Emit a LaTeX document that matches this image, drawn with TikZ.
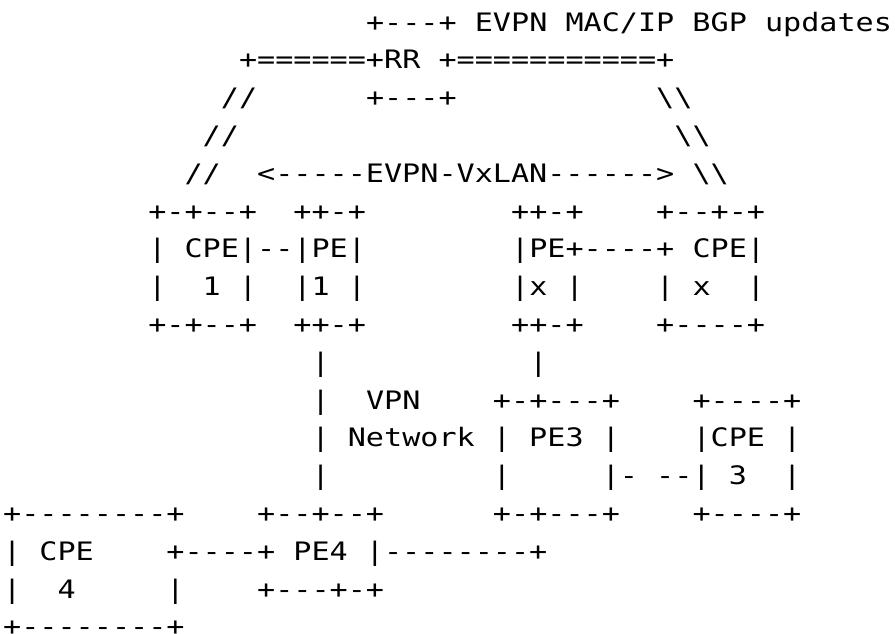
\documentclass[tikz,border=0pt]{standalone}
\usepackage{fontspec}
\usepackage{tikz}
\newfontfamily\rfcmono[FakeStretch=1.186]{DejaVu Sans Mono}
\newlength\cellw
\setlength\cellw{18.14pt}
\makeatletter
% one fixed-width cell per character
\newcommand\cells[1]{\@tfor\cellch:=#1\do{\makebox[\cellw][c]{\cellch}}}
\makeatother
\newcommand\bs{\textbackslash}

\tikzset{ascii/.style={font=\rfcmono\fontsize{25.4pt}{30pt}\selectfont, anchor=base west, inner sep=0pt}}

\begin{document}
\begin{tikzpicture}[x=18.14pt, y=-37.8pt]
            \useasboundingbox (-3pt,31pt) rectangle (892pt,-602pt);
            % Route reflector
            \node[ascii] (rrtop) at (20,0) {\cells{+---+}};
            \node[ascii] (updates) at (26,0) {\cells{EVPN~MAC/IP~BGP~updates}};
            \node[ascii] (rr) at (13,1) {\cells{+======+RR~+===========+}};
            \node[ascii] (rrbot) at (20,2) {\cells{+---+}};
            
            % Sessions down to the PEs
            \node[ascii] (lefta) at (12,2) {\cells{//}};
            \node[ascii] (leftb) at (11,3) {\cells{//}};
            \node[ascii] (leftc) at (10,4) {\cells{//}};
            \node[ascii] (righta) at (36,2) {\cells{\bs\bs}};
            \node[ascii] (rightb) at (37,3) {\cells{\bs\bs}};
            \node[ascii] (rightc) at (38,4) {\cells{\bs\bs}};
            \node[ascii] (vxlan) at (14,4) {\cells{<-----EVPN-VxLAN------>}};
            
            % CPE1 / PE1
            \node[ascii] (cpeonetop) at (8,5) {\cells{+-+--+}};
            \node[ascii] (peonetop) at (16,5) {\cells{++-+}};
            \node[ascii] (cpeone) at (8,6) {\cells{|~CPE|--|PE|}};
            \node[ascii] (cpeonenum) at (8,7) {\cells{|~~1~|~~|1~|}};
            \node[ascii] (cpeonebot) at (8,8) {\cells{+-+--+}};
            \node[ascii] (peonebot) at (16,8) {\cells{++-+}};
            
            % PEx / CPEx
            \node[ascii] (pextop) at (28,5) {\cells{++-+}};
            \node[ascii] (cpextop) at (36,5) {\cells{+--+-+}};
            \node[ascii] (pex) at (28,6) {\cells{|PE+----+~CPE|}};
            \node[ascii] (pexnum) at (28,7) {\cells{|x~|~~~~|~x~~|}};
            \node[ascii] (pexbot) at (28,8) {\cells{++-+}};
            \node[ascii] (cpexbot) at (36,8) {\cells{+----+}};
            
            % VPN network
            \node[ascii] (vpnup) at (17,9) {\cells{|}};
            \node[ascii] (pexdown) at (29,9) {\cells{|}};
            \node[ascii] (vpna) at (17,10) {\cells{|}};
            \node[ascii] (vpnlbl) at (20,10) {\cells{VPN}};
            \node[ascii] (vpnb) at (17,11) {\cells{|~Network~|~PE3~|}};
            \node[ascii] (vpnc) at (17,12) {\cells{|}};
            
            % PE3 / CPE3
            \node[ascii] (pethreetop) at (27,10) {\cells{+-+---+}};
            \node[ascii] (cpethreetop) at (38,10) {\cells{+----+}};
            \node[ascii] (cpethree) at (38,11) {\cells{|CPE~|}};
            \node[ascii] (pethree) at (27,12) {\cells{|~~~~~|-~--|~3~~|}};
            \node[ascii] (pethreebot) at (27,13) {\cells{+-+---+}};
            \node[ascii] (cpethreebot) at (38,13) {\cells{+----+}};
            
            % CPE4 / PE4
            \node[ascii] (cpefourtop) at (0,13) {\cells{+--------+}};
            \node[ascii] (pefourtop) at (14,13) {\cells{+--+--+}};
            \node[ascii] (cpefour) at (0,14) {\cells{|~CPE~~~~+----+~PE4~|--------+}};
            \node[ascii] (cpefournum) at (0,15) {\cells{|~~4~~~~~|~~~~+---+-+}};
            \node[ascii] (cpefourbot) at (0,16) {\cells{+--------+}};
        \end{tikzpicture}
\end{document}
